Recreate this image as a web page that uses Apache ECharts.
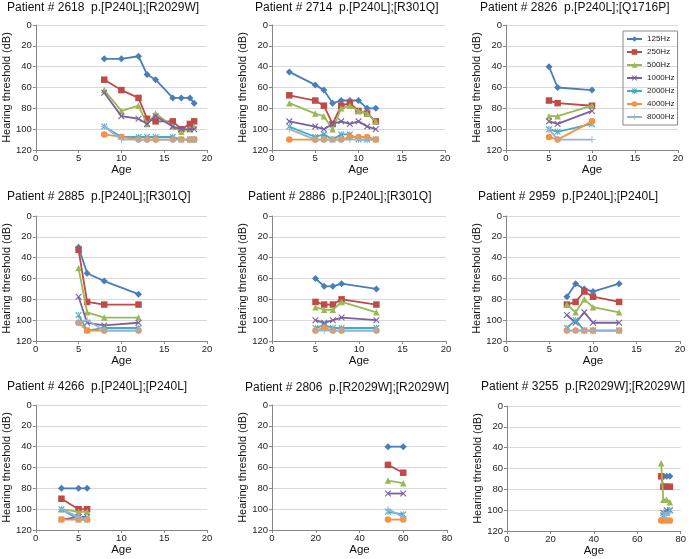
<!DOCTYPE html>
<html>
<head>
<meta charset="utf-8">
<script src="https://cdn.jsdelivr.net/npm/echarts@6/dist/echarts.min.js"></script>
<style>html,body{margin:0;padding:0;background:#fff}#c{width:689px;height:559px}</style>
</head>
<body>
<div id="c"></div>
<script>
// ---- data ----
const freqNames = ['125Hz','250Hz','500Hz','1000Hz','2000Hz','4000Hz','8000Hz'];
const patientTitles = [
  'Patient # 2618  p.[P240L];[R2029W]',
  'Patient # 2714  p.[P240L];[R301Q]',
  'Patient # 2826  p.[P240L];[Q1716P]',
  'Patient # 2885  p.[P240L];[R301Q]',
  'Patient # 2886  p.[P240L];[R301Q]',
  'Patient # 2959  p.[P240L];[P240L]',
  'Patient # 4266  p.[P240L];[P240L]',
  'Patient # 2806  p.[R2029W];[R2029W]',
  'Patient # 3255  p.[R2029W];[R2029W]'
];
const ageMax = [20,20,20,20,20,20,20,80,80];
const ageStep = [5,5,5,5,5,5,5,20,20];
const dbTicks = [0,20,40,60,80,100,120];

const p2618_age = [8,10,12,13,14,16,17,18,18.5];
const p2618 = [
  [32.5,32.5,30,47.5,52.5,70,70,70,75],
  [52.5,62.5,70,90,92.5,92.5,100,95,92.5],
  [62.5,82.5,77.5,95,85,97.5,102.5,100,97.5],
  [65,87.5,90,95,87.5,97.5,100,100,100],
  [97.5,107.5,107.5,107.5,107.5,107.5,110,110,110],
  [105,107.5,110,110,110,110,110,110,110],
  [97.5,110,110,110,110,110,110,110,110]
];
const p2714_age = [2,5,6,7,8,9,10,11,12];
const p2714 = [
  [45,57.5,62.5,75,72.5,72.5,72.5,80,80],
  [67.5,72.5,77.5,95,77.5,75,82.5,85,92.5],
  [75,85,87.5,100,80,77.5,82.5,85,92.5],
  [92.5,97.5,100,95,92.5,95,92.5,97.5,100],
  [97.5,107.5,105,110,105,105,110,110,110],
  [110,110,110,110,110,107.5,107.5,107.5,110],
  [100,110,110,110,110,110,110,110,110]
];
const p2826_age = [5,6,10];
const p2826 = [
  [40,60,62.5],
  [72.5,75,77.5],
  [87.5,87.5,77.5],
  [92.5,95,82.5],
  [100,102.5,95],
  [107.5,110,92.5],
  [100,110,110]
];
const p2885_age = [5,6,8,12];
const p2885 = [
  [30,55,62.5,75],
  [32.5,82.5,85,85],
  [50,92.5,97.5,97.5],
  [77.5,102.5,105,102.5],
  [95,110,107.5,107.5],
  [102.5,110,110,110],
  [102.5,100,110,110]
];
const p2886_age = [5,6,7,8,12];
const p2886 = [
  [60,67.5,67.5,65,70],
  [82.5,85,85,80,85],
  [87.5,90,90,82.5,92.5],
  [100,102.5,100,97.5,100],
  [107.5,105,107.5,107.5,107.5],
  [110,107.5,110,110,110],
  [110,110,110,110,110]
];
const p2959_age = [7,8,9,10,13];
const p2959 = [
  [77.5,65,70,72.5,65],
  [85,82.5,72.5,77.5,82.5],
  [85,92.5,80,87.5,92.5],
  [95,102.5,92.5,102.5,102.5],
  [107.5,100,110,110,110],
  [110,110,110,110,110],
  [110,110,110,110,110]
];
const p4266_age = [3,5,6];
const p4266 = [
  [80,80,80],
  [90,100,100],
  [100,102.5,102.5],
  [110,107.5,107.5],
  [100,110,110],
  [110,110,110],
  [100,107.5,110]
];
const p2806_age = [53,60];
const p2806 = [
  [40,40],
  [57.5,65],
  [72.5,75],
  [85,85],
  [102.5,105],
  [110,110],
  [100,107.5]
];
const p3255_age = [71,72,73.5,75];
const p3255 = [
  [null,67.5,67.5,67.5],
  [67.5,77.5,77.5,77.5],
  [55,90,90,92.5],
  [null,102.5,100,100],
  [null,105,102.5,100],
  [110,110,110,110],
  [null,102.5,105,102.5]
];

const patientAges = [p2618_age,p2714_age,p2826_age,p2885_age,p2886_age,p2959_age,p4266_age,p2806_age,p3255_age];
const patientVals = [p2618,p2714,p2826,p2885,p2886,p2959,p4266,p2806,p3255];

// ---- styles / layout ----
const colors = ['#4A7EBB','#BE4B48','#98B954','#7D60A0','#46AAC5','#F69240','#95B3D7'];
const xPath = 'path://M0,1.2 L1.2,0 L5,3.8 L8.8,0 L10,1.2 L6.2,5 L10,8.8 L8.8,10 L5,6.2 L1.2,10 L0,8.8 L3.8,5 Z';
const starPath = 'path://M0,1.2 L1.2,0 L5,3.8 L8.8,0 L10,1.2 L6.2,5 L10,8.8 L8.8,10 L5,6.2 L1.2,10 L0,8.8 L3.8,5 Z M4.4,0 L4.4,10 L5.6,10 L5.6,0 Z';
const plusPath = 'path://M4.4,0 L5.6,0 L5.6,4.4 L10,4.4 L10,5.6 L5.6,5.6 L5.6,10 L4.4,10 L4.4,5.6 L0,5.6 L0,4.4 L4.4,4.4 Z';
const symbols = ['diamond','rect','triangle',xPath,starPath,'circle',plusPath];
const symSizes = [7,6.5,6.5,6.5,6.5,6.5,7];

const grids = [
  {left:33,top:25,width:174,height:125},
  {left:272,top:25,width:173,height:125},
  {left:506,top:25,width:172,height:125},
  {left:32,top:216,width:175,height:125},
  {left:272,top:216,width:174,height:125},
  {left:506,top:216,width:174,height:125},
  {left:33,top:405,width:174,height:125},
  {left:272,top:405,width:175,height:125},
  {left:507,top:406,width:174,height:125}
];
const titlePos = [[7,2],[255,2],[480,2],[7,191],[248,191],[478,191],[7,381],[245,382],[481,381]];
const yNameGap = [19,16,18,18,18,20,19,17,19];
const FONT = '"Liberation Sans", Arial, sans-serif';

const option = {
  animation:false,
  backgroundColor:'#fff',
  textStyle:{fontFamily:FONT},
  title: patientTitles.map((t,i)=>({
    text:t, left:titlePos[i][0], top:titlePos[i][1], padding:0,
    textStyle:{fontSize:12, fontWeight:'normal', color:'#111', fontFamily:FONT}
  })),
  legend:{
    data:freqNames, left:623, top:31, orient:'vertical',
    itemWidth:15, itemHeight:7, itemGap:5, padding:[4,3,4,3],
    borderColor:'#8a8a8a', borderWidth:1, selectedMode:false,
    textStyle:{fontSize:8, color:'#222', fontFamily:FONT}
  },
  grid: grids,
  xAxis: grids.map((g,i)=>({
    type:'value', gridIndex:i, min:0, max:ageMax[i], interval:ageStep[i],
    name:'Age', nameLocation:'middle', nameGap:14,
    nameTextStyle:{fontSize:11.5, color:'#111', fontFamily:FONT},
    axisLine:{show:true, onZero:false, lineStyle:{color:'#868686', width:1}},
    axisTick:{show:true, length:3, lineStyle:{color:'#868686'}},
    axisLabel:{fontSize:9.5, color:'#222', margin:3, fontFamily:FONT},
    splitLine:{show:false}
  })),
  yAxis: grids.map((g,i)=>({
    type:'value', gridIndex:i, min:dbTicks[0], max:dbTicks[dbTicks.length-1], interval:dbTicks[1]-dbTicks[0],
    inverse:true,
    name:'Hearing threshold (dB)', nameLocation:'middle', nameGap:yNameGap[i],
    nameTextStyle:{fontSize:11, color:'#111', fontFamily:FONT},
    axisLine:{show:true, onZero:false, lineStyle:{color:'#868686', width:1}},
    axisTick:{show:true, length:3, lineStyle:{color:'#868686'}},
    axisLabel:{fontSize:9.5, color:'#222', margin:4, fontFamily:FONT},
    splitLine:{show:true, lineStyle:{color:'#D9D9D9', width:1}}
  })),
  series: []
};

patientVals.forEach((vals,i)=>{
  const ages = patientAges[i];
  vals.forEach((row,j)=>{
    option.series.push({
      type:'line', name:freqNames[j], xAxisIndex:i, yAxisIndex:i,
      data: ages.map((a,k)=>[a,row[k]]),
      connectNulls:true,
      symbol:symbols[j], symbolSize:symSizes[j],
      color:colors[j],
      lineStyle:{width:1.8, color:colors[j]},
      itemStyle:{color:colors[j]},
      z:2+j
    });
  });
});

const chart = echarts.init(document.getElementById('c'), null, {renderer:'canvas'});
chart.setOption(option);
</script>
</body>
</html>
